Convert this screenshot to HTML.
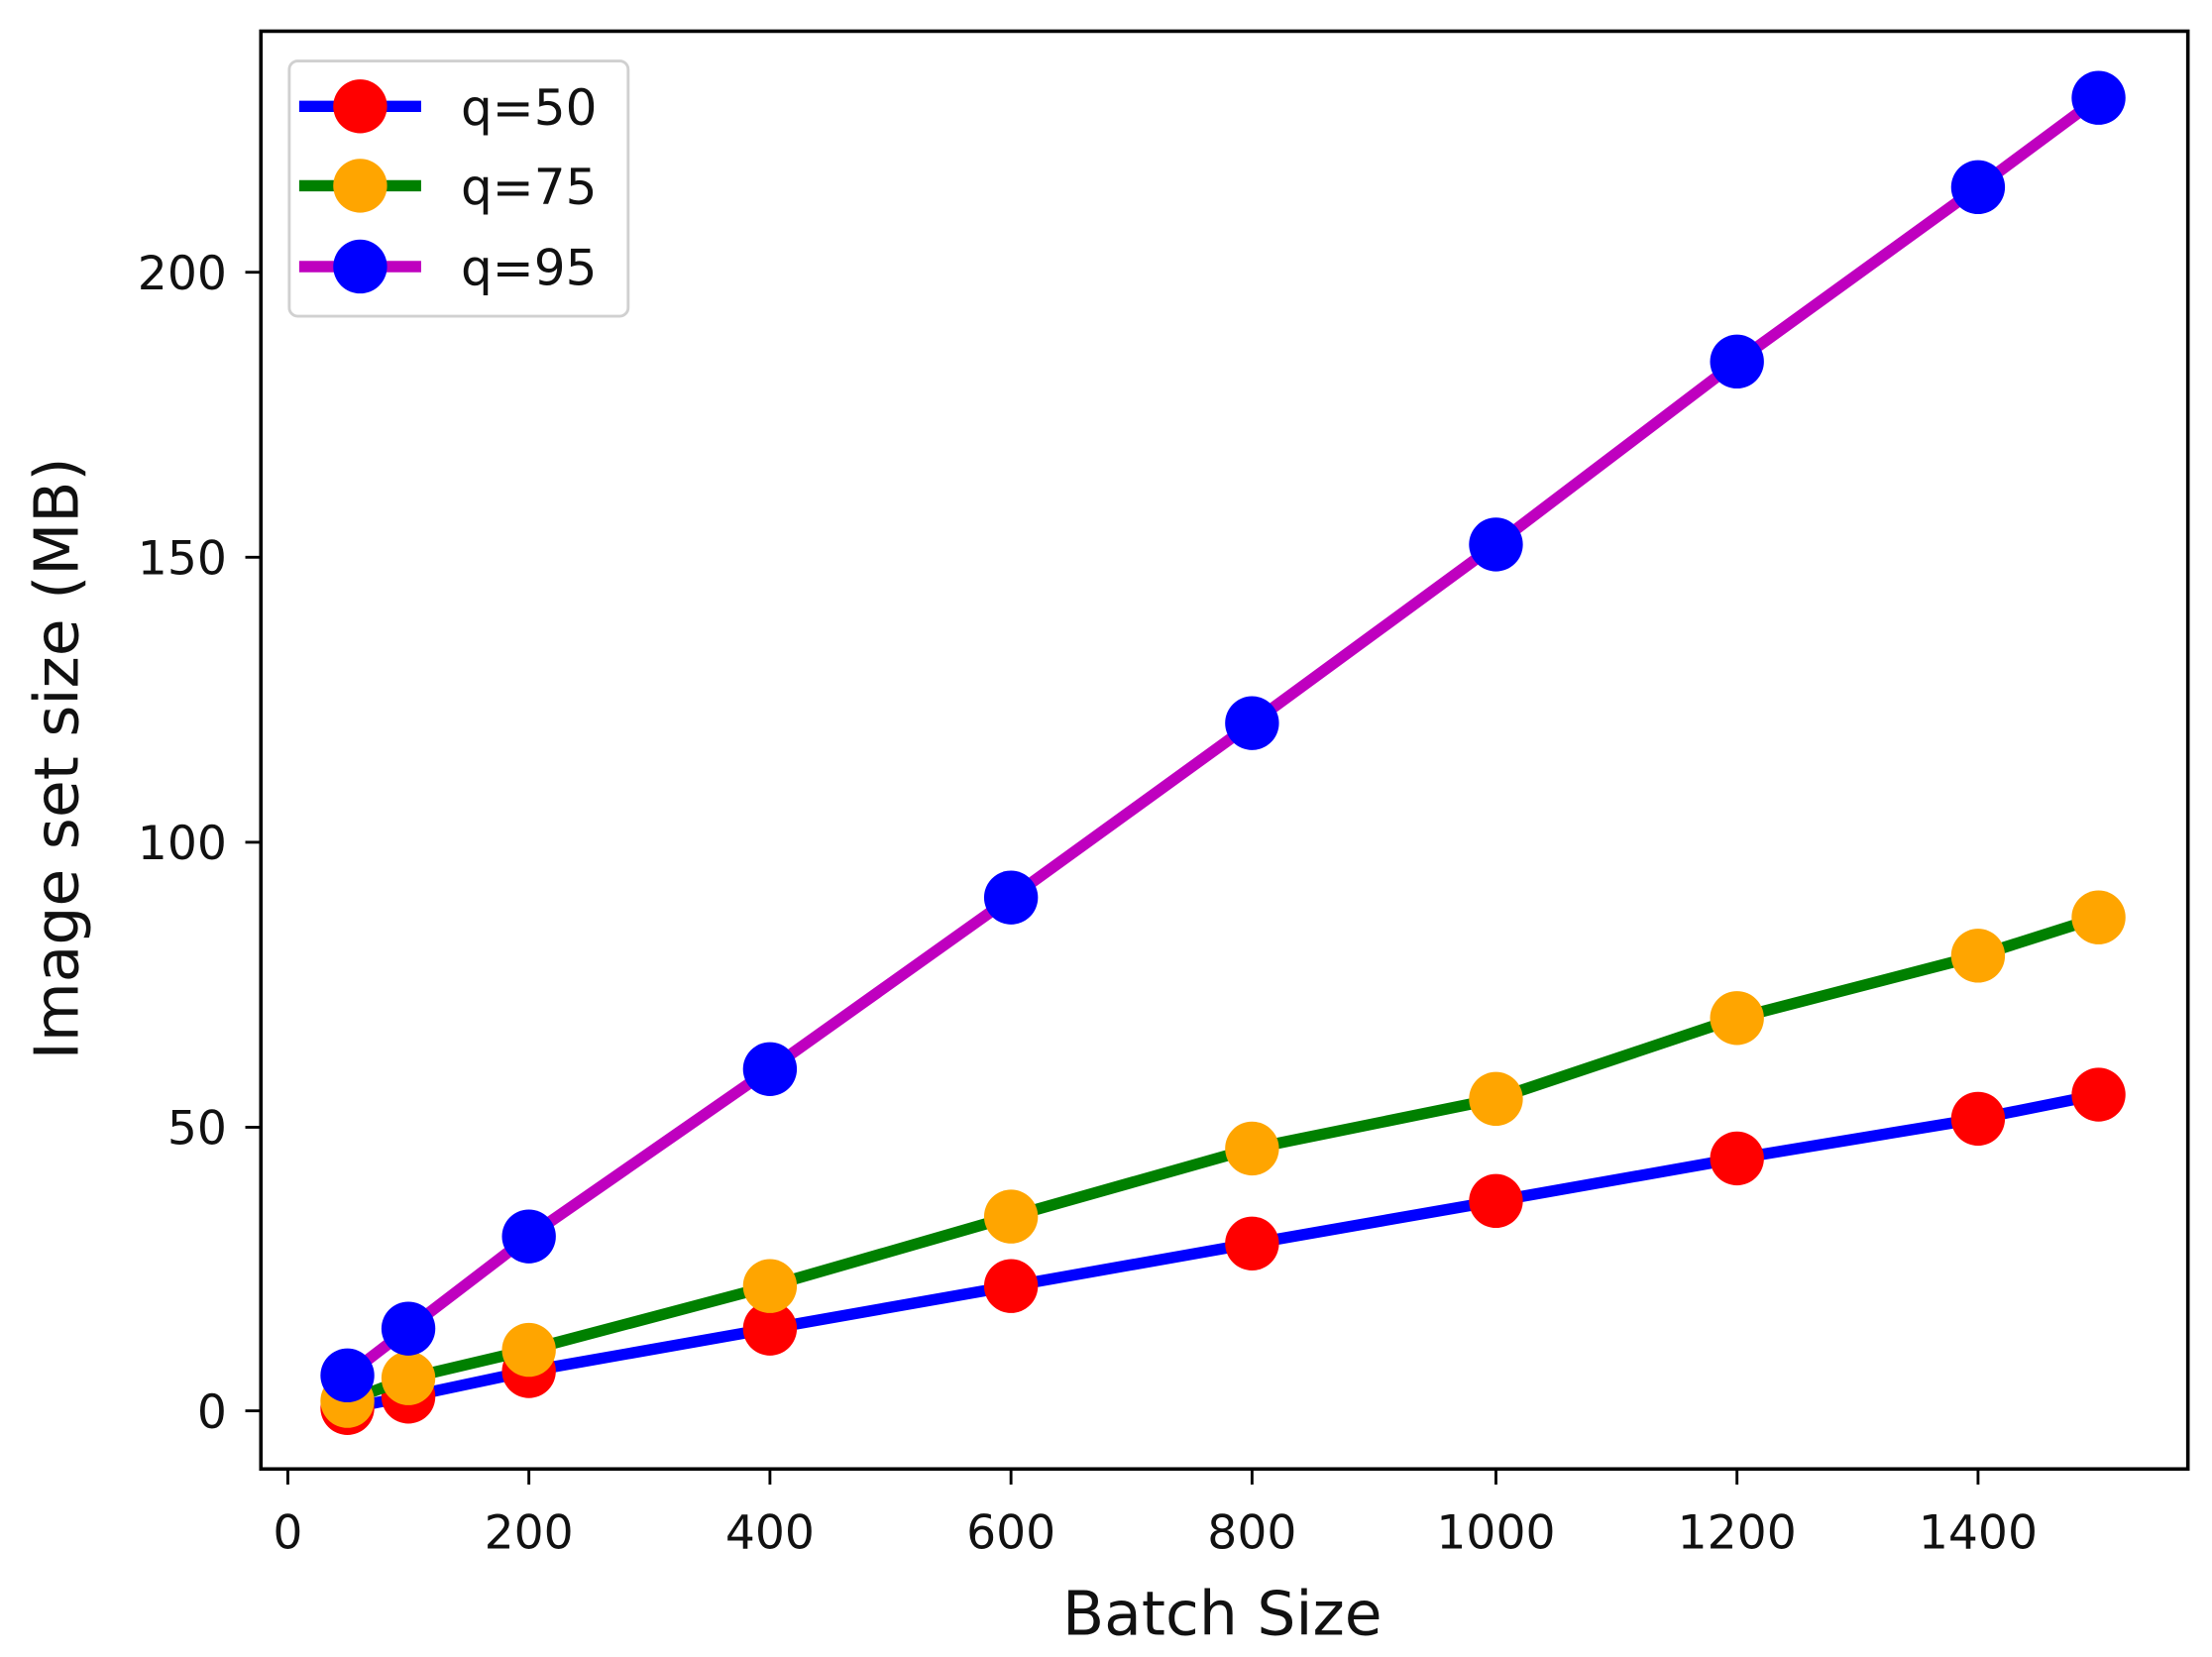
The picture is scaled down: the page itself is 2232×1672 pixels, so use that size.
<!DOCTYPE html>
<html><head><meta charset="utf-8"><style>html,body{margin:0;padding:0;background:#fff}svg{display:block}</style></head>
<body>
<svg width="2232" height="1672" viewBox="0 0 1560 1168.6" preserveAspectRatio="none" xmlns="http://www.w3.org/2000/svg" font-family="'DejaVu Sans','Liberation Sans',sans-serif">
<rect width="1560" height="1169" fill="#fff"/>
<g fill="#111" font-size="33">
<g stroke="#000" stroke-width="2">
<line x1="173" y1="995" x2="184" y2="995"/><line x1="173" y1="795" x2="184" y2="795"/><line x1="173" y1="594" x2="184" y2="594"/><line x1="173" y1="393" x2="184" y2="393"/><line x1="173" y1="192" x2="184" y2="192"/>
<line x1="203" y1="1036" x2="203" y2="1047"/><line x1="373" y1="1036" x2="373" y2="1047"/><line x1="543" y1="1036" x2="543" y2="1047"/><line x1="713" y1="1036" x2="713" y2="1047"/><line x1="883" y1="1036" x2="883" y2="1047"/><line x1="1055" y1="1036" x2="1055" y2="1047"/><line x1="1225" y1="1036" x2="1225" y2="1047"/><line x1="1395" y1="1036" x2="1395" y2="1047"/>
</g>
<g text-anchor="end">
<text x="160" y="1007">0</text><text x="160" y="807">50</text><text x="160" y="606">100</text><text x="160" y="405">150</text><text x="160" y="204">200</text>
</g>
<g text-anchor="middle">
<text x="203" y="1092">0</text><text x="373" y="1092">200</text><text x="543" y="1092">400</text><text x="713" y="1092">600</text><text x="883" y="1092">800</text><text x="1055" y="1092">1000</text><text x="1225" y="1092">1200</text><text x="1395" y="1092">1400</text>
</g>
<text x="862" y="1153" text-anchor="middle" font-size="43">Batch Size</text>
<text transform="translate(55,535) rotate(-90)" text-anchor="middle" font-size="43">Image set size (MB)</text>
</g>
<polyline stroke="#0000ff" stroke-width="8" fill="none" points="245,993 288,985 373,967 543,937 713,907 883,877 1055,847 1225,817 1395,789 1480,772"/>
<g fill="#ff0000">
<circle cx="245" cy="993" r="19"/><circle cx="288" cy="985" r="19"/><circle cx="373" cy="967" r="19"/><circle cx="543" cy="937" r="19"/><circle cx="713" cy="907" r="19"/><circle cx="883" cy="877" r="19"/><circle cx="1055" cy="847" r="19"/><circle cx="1225" cy="817" r="19"/><circle cx="1395" cy="789" r="19"/><circle cx="1480" cy="772" r="19"/>
</g>
<polyline stroke="#008000" stroke-width="8" fill="none" points="245,988 288,972 373,952 543,907 713,858 883,810 1055,775 1225,718 1395,674 1480,647"/>
<g fill="#ffa500">
<circle cx="245" cy="988" r="19"/><circle cx="288" cy="972" r="19"/><circle cx="373" cy="952" r="19"/><circle cx="543" cy="907" r="19"/><circle cx="713" cy="858" r="19"/><circle cx="883" cy="810" r="19"/><circle cx="1055" cy="775" r="19"/><circle cx="1225" cy="718" r="19"/><circle cx="1395" cy="674" r="19"/><circle cx="1480" cy="647" r="19"/>
</g>
<polyline stroke="#bf00bf" stroke-width="8" fill="none" points="245,970 288,937 373,872 543,754 713,633 883,510 1055,384 1225,255 1395,132 1480,69"/>
<g fill="#0000ff">
<circle cx="245" cy="970" r="19"/><circle cx="288" cy="937" r="19"/><circle cx="373" cy="872" r="19"/><circle cx="543" cy="754" r="19"/><circle cx="713" cy="633" r="19"/><circle cx="883" cy="510" r="19"/><circle cx="1055" cy="384" r="19"/><circle cx="1225" cy="255" r="19"/><circle cx="1395" cy="132" r="19"/><circle cx="1480" cy="69" r="19"/>
</g>
<rect x="184" y="22" width="1359" height="1014" fill="none" stroke="#000" stroke-width="2.5"/>
<rect x="204" y="43" width="239" height="180" rx="6" fill="#fff" fill-opacity="0.85" stroke="#d0d0d0" stroke-width="2"/>
<g stroke-width="8">
<line x1="211" y1="75" x2="297" y2="75" stroke="#0000ff"/>
<line x1="211" y1="131" x2="297" y2="131" stroke="#008000"/>
<line x1="211" y1="188" x2="297" y2="188" stroke="#bf00bf"/>
</g>
<circle cx="254" cy="75" r="19" fill="#ff0000"/>
<circle cx="254" cy="131" r="19" fill="#ffa500"/>
<circle cx="254" cy="188" r="19" fill="#0000ff"/>
<g font-size="35" fill="#111">
<text x="325" y="88">q=50</text><text x="325" y="144">q=75</text><text x="325" y="201">q=95</text>
</g>
</svg>
</body></html>
